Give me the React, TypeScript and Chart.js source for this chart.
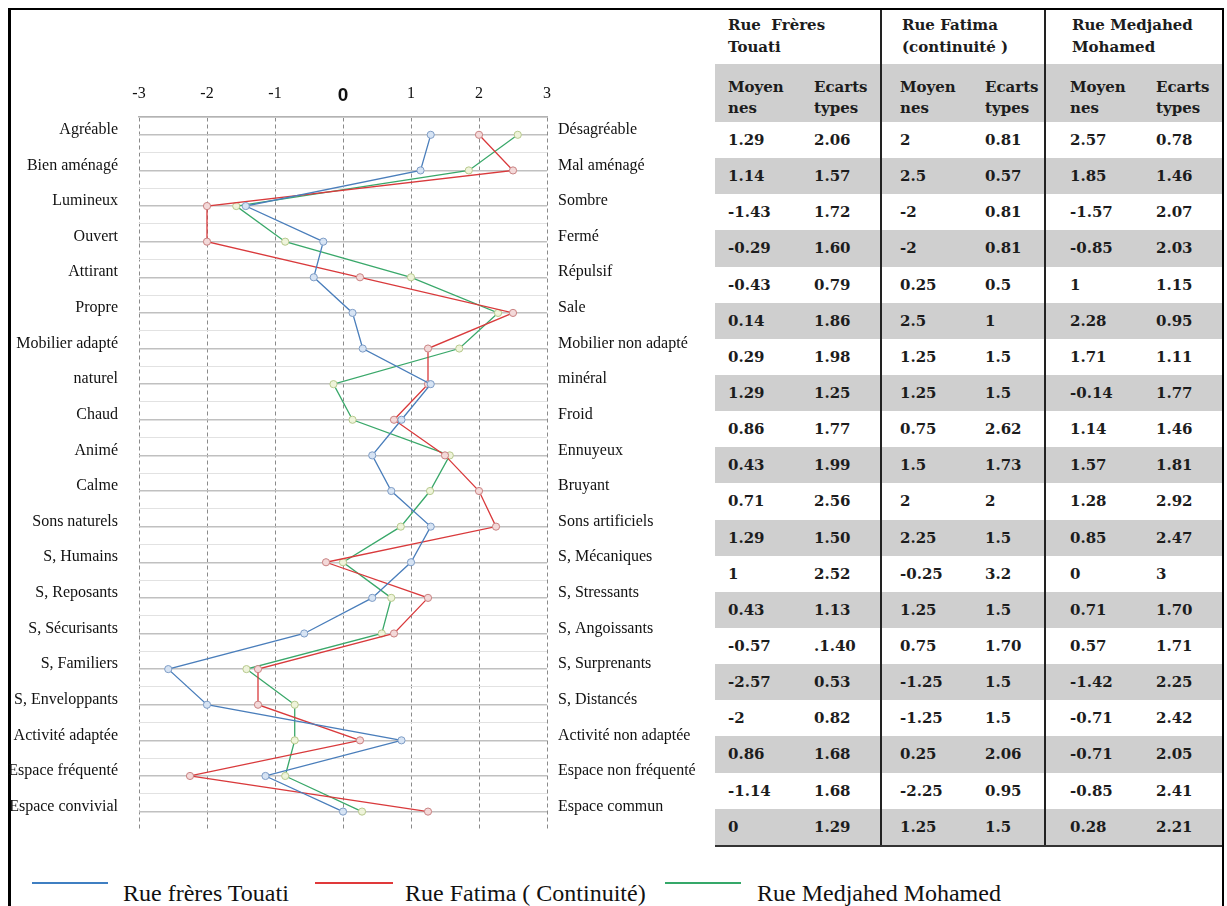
import React, { useEffect, useRef } from "react";
import { Chart, registerables } from "chart.js";

Chart.register(...registerables);

if (typeof document !== "undefined") {
  document.body.style.margin = "0";
  document.documentElement.style.overflow = "hidden";
  document.body.style.overflow = "hidden";
}

// ---- Chart data (read from the plotted profile) ----
const leftLabels = [
  "Agréable", "Bien aménagé", "Lumineux", "Ouvert", "Attirant", "Propre",
  "Mobilier adapté", "naturel", "Chaud", "Animé", "Calme", "Sons naturels",
  "S, Humains", "S, Reposants", "S, Sécurisants", "S, Familiers",
  "S, Enveloppants", "Activité adaptée", "Espace fréquenté", "Espace convivial",
];
const rightLabels = [
  "Désagréable", "Mal aménagé", "Sombre", "Fermé", "Répulsif", "Sale",
  "Mobilier non adapté", "minéral", "Froid", "Ennuyeux", "Bruyant",
  "Sons artificiels", "S, Mécaniques", "S, Stressants", "S, Angoissants",
  "S, Surprenants", "S, Distancés", "Activité non adaptée",
  "Espace non fréquenté", "Espace commun",
];
const xTickValues = [-3, -2, -1, 0, 1, 2, 3];
const seriesNames = ["Rue frères Touati", "Rue Fatima ( Continuité)", "Rue Medjahed Mohamed"];

const touatiPlot = [1.29, 1.14, -1.43, -0.29, -0.43, 0.14, 0.29, 1.29, 0.86, 0.43, 0.71, 1.29, 1, 0.43, -0.57, -2.57, -2, 0.86, -1.14, 0];
const fatimaPlot = [2, 2.5, -2, -2, 0.25, 2.5, 1.25, 1.25, 0.75, 1.5, 2, 2.25, -0.25, 1.25, 0.75, -1.25, -1.25, 0.25, -2.25, 1.25];
const medjahedPlot = [2.57, 1.85, -1.57, -0.85, 1, 2.28, 1.71, -0.14, 0.14, 1.57, 1.28, 0.85, 0, 0.71, 0.57, -1.42, -0.71, -0.71, -0.85, 0.28];

// ---- Table text ----
const groupHeaders = [["Rue  Frères", "Touati"], ["Rue Fatima", "(continuité )"], ["Rue Medjahed", "Mohamed"]];
const subHeaders = [["Moyen", "nes"], ["Ecarts", "types"]];
const touatiMoy = ["1.29", "1.14", "-1.43", "-0.29", "-0.43", "0.14", "0.29", "1.29", "0.86", "0.43", "0.71", "1.29", "1", "0.43", "-0.57", "-2.57", "-2", "0.86", "-1.14", "0"];
const touatiEc = ["2.06", "1.57", "1.72", "1.60", "0.79", "1.86", "1.98", "1.25", "1.77", "1.99", "2.56", "1.50", "2.52", "1.13", ".1.40", "0.53", "0.82", "1.68", "1.68", "1.29"];
const fatimaMoy = ["2", "2.5", "-2", "-2", "0.25", "2.5", "1.25", "1.25", "0.75", "1.5", "2", "2.25", "-0.25", "1.25", "0.75", "-1.25", "-1.25", "0.25", "-2.25", "1.25"];
const fatimaEc = ["0.81", "0.57", "0.81", "0.81", "0.5", "1", "1.5", "1.5", "2.62", "1.73", "2", "1.5", "3.2", "1.5", "1.70", "1.5", "1.5", "2.06", "0.95", "1.5"];
const medjahedMoy = ["2.57", "1.85", "-1.57", "-0.85", "1", "2.28", "1.71", "-0.14", "1.14", "1.57", "1.28", "0.85", "0", "0.71", "0.57", "-1.42", "-0.71", "-0.71", "-0.85", "0.28"];
const medjahedEc = ["0.78", "1.46", "2.07", "2.03", "1.15", "0.95", "1.11", "1.77", "1.46", "1.81", "2.92", "2.47", "3", "1.70", "1.71", "2.25", "2.42", "2.05", "2.41", "2.21"];

const tableColumns = [touatiMoy, touatiEc, fatimaMoy, fatimaEc, medjahedMoy, medjahedEc];

const lineColors = ["#4a7ebb", "#d93a3c", "#3aa86a"];
const pointFills = ["#d6e3f3", "#f3d9d9", "#eef3da"];
const pointEdges = ["#7f9dc6", "#c98282", "#b7c98d"];
const legendColors = ["#3f7fc2", "#e0393a", "#35a869"];

const colDefs = [
  { w: 99, pad: 13, sep: false },
  { w: 66, pad: 0, sep: false },
  { w: 105, pad: 18, sep: true },
  { w: 59, pad: 0, sep: false },
  { w: 112, pad: 24, sep: true },
  { w: 66, pad: 0, sep: false },
];
const groupDefs = [
  { w: 165, pad: 13, sep: false },
  { w: 164, pad: 20, sep: true },
  { w: 178, pad: 26, sep: true },
];

const GRAY = "#cfcfcf";
const SEP = "2px solid #222";

export default function App() {
  const canvasRef = useRef<HTMLCanvasElement>(null);

  useEffect(() => {
    document.body.style.margin = "0";
    const canvas = canvasRef.current;
    if (!canvas) return;
    const yTicks: number[] = [];
    for (let k = -1; k <= 39; k++) yTicks.push(k / 2);
    const toPoints = (vals: number[]) => vals.map((v, i) => ({ x: v, y: i }));
    const series = [touatiPlot, fatimaPlot, medjahedPlot];
    const chart = new Chart(canvas, {
      type: "line",
      data: {
        datasets: series.map((vals, i) => ({
          label: seriesNames[i],
          data: toPoints(vals),
          borderColor: lineColors[i],
          backgroundColor: pointFills[i],
          pointBackgroundColor: pointFills[i],
          pointBorderColor: pointEdges[i],
          pointBorderWidth: 1,
          pointRadius: 3.6,
          borderWidth: 1.3,
          tension: 0,
          fill: false,
        })),
      },
      options: {
        responsive: false,
        animation: false,
        layout: { padding: { left: 0, right: 0, top: 0, bottom: 16 } },
        plugins: { legend: { display: false }, tooltip: { enabled: false } },
        scales: {
          x: {
            type: "linear",
            position: "top",
            min: -3,
            max: 3,
            afterBuildTicks: (s: any) => {
              s.ticks = xTickValues.map((v) => ({ value: v }));
            },
            afterFit: (s: any) => {
              s.height = 107;
            },
            grid: { color: "#8a8a8a", lineWidth: 1, drawTicks: false },
            border: { display: true, color: "#b3b3b3", width: 1.5, dash: [4, 3] },
            ticks: {
              padding: 14,
              color: "#111",
              font: (c: any) =>
                c.tick && c.tick.value === 0
                  ? { family: "'Liberation Sans'", size: 19, weight: "bold", lineHeight: 0.8 }
                  : { family: "'Liberation Serif'", size: 16 },
              callback: (v: any) => String(v),
            },
          },
          y: {
            type: "linear",
            position: "left",
            min: -0.5,
            max: 19.5,
            reverse: true,
            afterBuildTicks: (s: any) => {
              s.ticks = yTicks.map((v) => ({ value: v }));
            },
            afterFit: (s: any) => {
              s.width = 131;
            },
            grid: {
              drawTicks: false,
              color: (c: any) => {
                const v = c.tick ? c.tick.value : 0;
                if (v === 19.5) return "rgba(0,0,0,0)";
                return Number.isInteger(v) ? "#c0c0c0" : "#e2e2e2";
              },
              lineWidth: (c: any) => (c.tick && Number.isInteger(c.tick.value) ? 1.5 : 1),
            },
            border: { display: false },
            ticks: {
              autoSkip: false,
              padding: 21,
              labelOffset: -5,
              color: "#111",
              font: { family: "'Liberation Serif'", size: 16 },
              callback: (v: any) => (Number.isInteger(v) ? leftLabels[v] : ""),
            },
          },
          y2: {
            type: "linear",
            position: "right",
            min: -0.5,
            max: 19.5,
            reverse: true,
            afterBuildTicks: (s: any) => {
              s.ticks = yTicks.map((v) => ({ value: v }));
            },
            afterFit: (s: any) => {
              s.width = 161;
            },
            grid: { display: false, drawTicks: false },
            border: { display: false },
            ticks: {
              autoSkip: false,
              padding: 11,
              labelOffset: -5,
              color: "#111",
              font: { family: "'Liberation Serif'", size: 16 },
              callback: (v: any) => (Number.isInteger(v) ? rightLabels[v] : ""),
            },
          },
        },
      } as any,
    });
    return () => chart.destroy();
  }, []);

  const rowH = 36.15;

  return (
    <div
      style={{
        position: "relative",
        width: 1227,
        height: 906,
        overflow: "hidden",
        background: "#fff",
      }}
    >
      <div
        style={{
          position: "absolute",
          left: 8,
          top: 8,
          width: 1216,
          height: 898,
          boxSizing: "border-box",
          borderLeft: "3px solid #000",
          borderTop: "2px solid #000",
          borderRight: "2px solid #000",
        }}
      />
      <canvas
        ref={canvasRef}
        width={700}
        height={850}
        style={{ position: "absolute", left: 8, top: 10, display: "block" }}
      />

      <div
        style={{
          position: "absolute",
          left: 715,
          top: 10,
          width: 507,
          fontFamily: "'DejaVu Serif'",
          fontWeight: "bold",
          fontSize: 15,
          color: "#1c1c1c",
          borderBottom: "2px solid #333",
        }}
      >
        <div style={{ display: "flex", height: 54 }}>
          {groupDefs.map((g, gi) => (
            <div
              key={gi}
              style={{
                width: g.w,
                boxSizing: "border-box",
                paddingLeft: g.pad,
                paddingTop: 4,
                borderLeft: g.sep ? SEP : "none",
                lineHeight: "22px",
                whiteSpace: "pre",
              }}
            >
              {groupHeaders[gi][0]}
              <br />
              {groupHeaders[gi][1]}
            </div>
          ))}
        </div>
        <div style={{ display: "flex", height: 58, background: GRAY }}>
          {colDefs.map((c, ci) => (
            <div
              key={ci}
              style={{
                width: c.w,
                boxSizing: "border-box",
                paddingLeft: c.pad,
                paddingTop: 13,
                borderLeft: c.sep ? SEP : "none",
                lineHeight: "21px",
              }}
            >
              {subHeaders[ci % 2][0]}
              <br />
              {subHeaders[ci % 2][1]}
            </div>
          ))}
        </div>
        {touatiMoy.map((_, ri) => (
          <div
            key={ri}
            style={{ display: "flex", height: rowH, background: ri % 2 === 1 ? GRAY : "#fff" }}
          >
            {colDefs.map((c, ci) => (
              <div
                key={ci}
                style={{
                  width: c.w,
                  boxSizing: "border-box",
                  paddingLeft: c.pad,
                  borderLeft: c.sep ? SEP : "none",
                  display: "flex",
                  alignItems: "center",
                }}
              >
                {tableColumns[ci][ri]}
              </div>
            ))}
          </div>
        ))}
      </div>

      {[
        { line: 32, w: 76, text: 123 },
        { line: 315, w: 78, text: 405 },
        { line: 665, w: 76, text: 757 },
      ].map((p, i) => (
        <React.Fragment key={i}>
          <div
            style={{
              position: "absolute",
              left: p.line,
              top: 882,
              width: p.w,
              height: 2,
              background: legendColors[i],
            }}
          />
          <div
            style={{
              position: "absolute",
              left: p.text,
              top: 881,
              fontFamily: "'Liberation Serif'",
              fontSize: 24,
              lineHeight: "24px",
              color: "#111",
              whiteSpace: "nowrap",
            }}
          >
            {seriesNames[i]}
          </div>
        </React.Fragment>
      ))}
    </div>
  );
}
